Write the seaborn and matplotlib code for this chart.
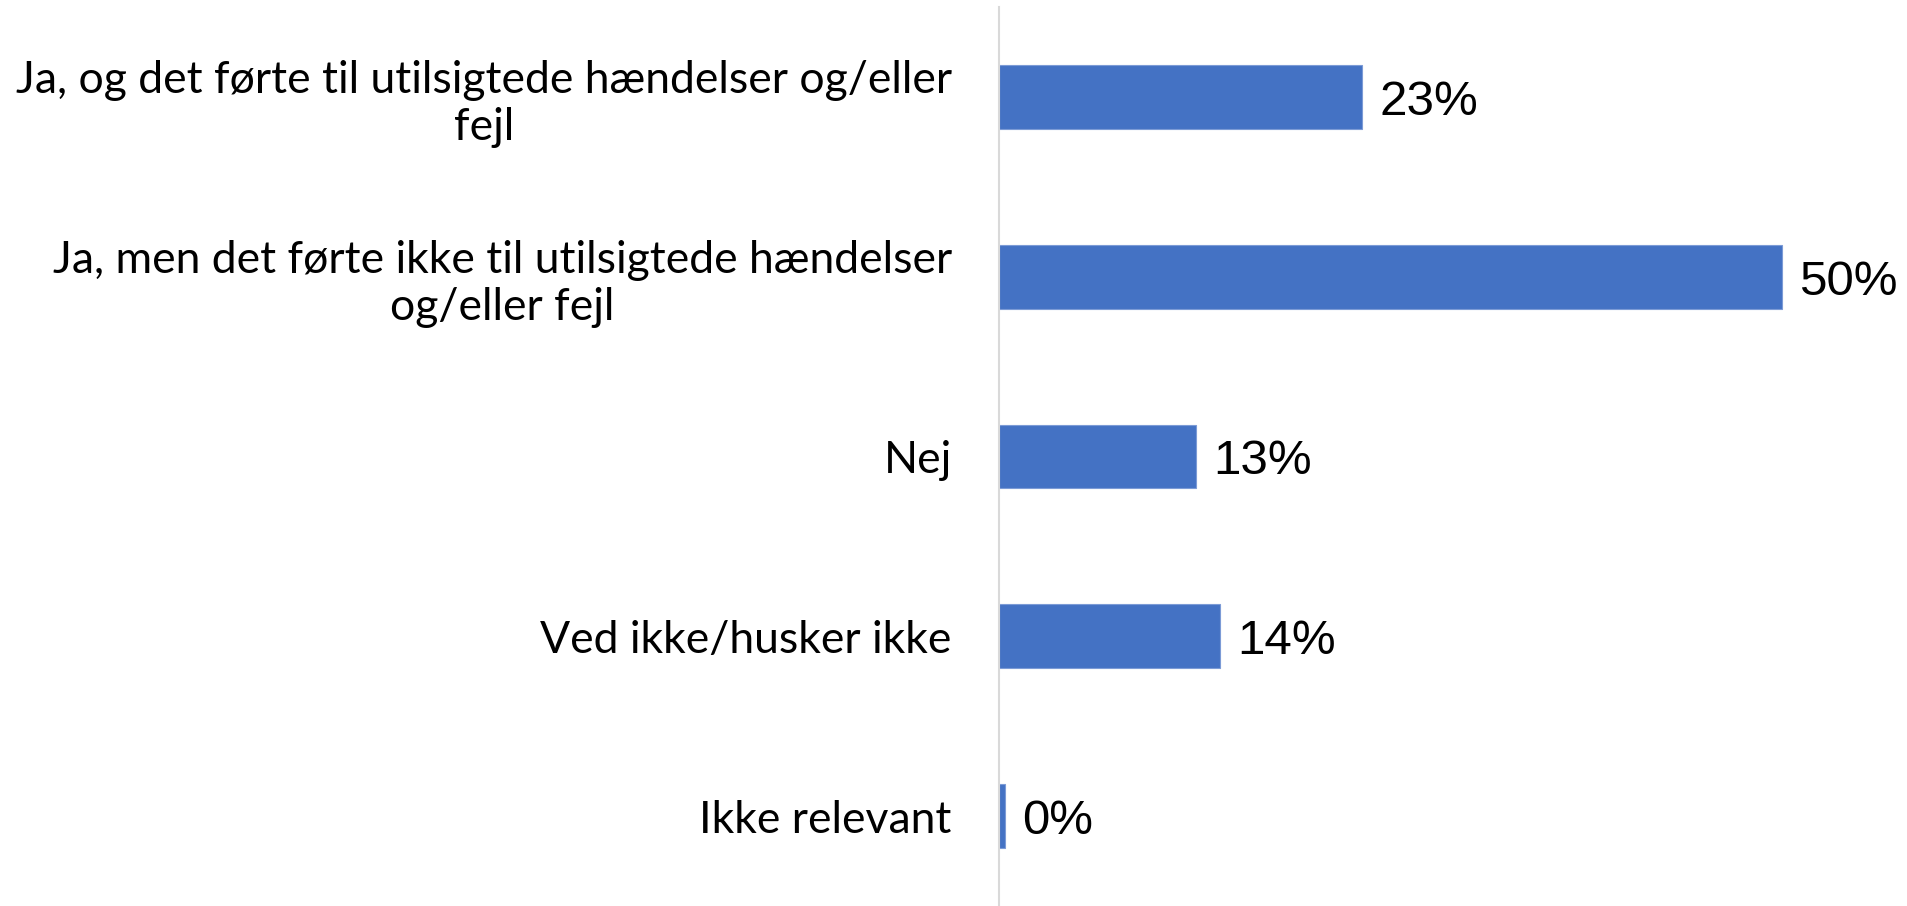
import matplotlib
matplotlib.use('Agg')
import matplotlib.pyplot as plt
import seaborn as sns
import pandas as pd

# Data
categories = [
    'Ja, og det førte til utilsigtede hændelser og/eller\nfejl',
    'Ja, men det førte ikke til utilsigtede hændelser\nog/eller fejl',
    'Nej',
    'Ved ikke/husker ikke',
    'Ikke relevant',
]
values = [23.2, 50.0, 12.6, 14.1, 0.4]
value_labels = ['23%', '50%', '13%', '14%', '0%']

sns.set_style('white')
plt.rcParams['font.family'] = ['Lato', 'DejaVu Sans']

df = pd.DataFrame({'category': categories, 'value': values})

fig = plt.figure(figsize=(19.07, 9.06), dpi=100)
ax = fig.add_axes([999 / 1907, 0.0, 1 - 999 / 1907, 1 - 7 / 906])

sns.barplot(data=df, x='value', y='category', orient='h', color='#4472C4',
            width=0.354, edgecolor='#7c9bd6', linewidth=0.8, ax=ax, saturation=1)

ax.set_xlim(0, 58)
ax.set_ylim(4.5, -0.5)
ax.set_xlabel('')
ax.set_ylabel('')
ax.set_xticks([])

for s in ['top', 'right', 'bottom']:
    ax.spines[s].set_visible(False)
ax.spines['left'].set_color('#d9d9d9')
ax.spines['left'].set_linewidth(1.5)

ax.tick_params(axis='y', length=0, pad=34, labelsize=32, labelcolor='black')
for t in ax.get_yticklabels():
    t.set_multialignment('center')
    t.set_linespacing(1.2)

for i, (v, lab) in enumerate(zip(values, value_labels)):
    ax.text(v + 1.1, i + 0.03, lab, va='center', ha='left', fontsize=35.5,
            family='Liberation Sans', color='black')

fig.savefig('out.png', dpi=100)
